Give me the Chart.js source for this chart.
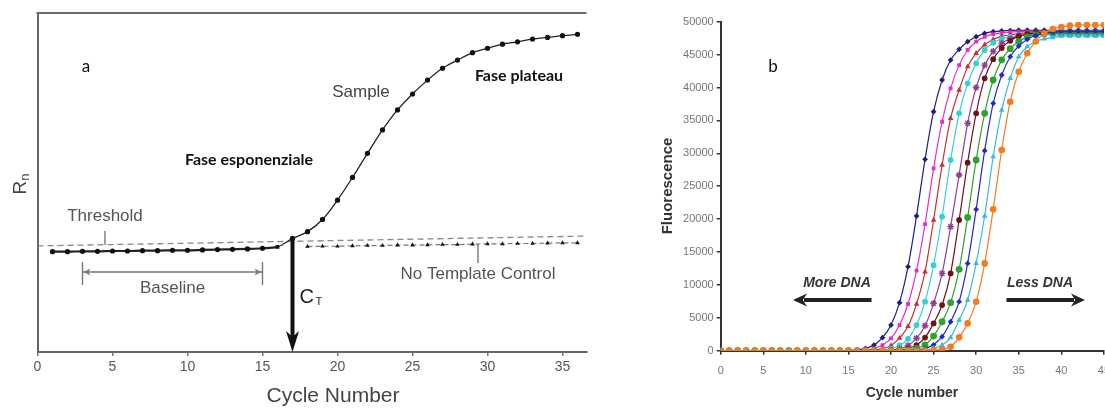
<!DOCTYPE html>
<html>
<head>
<meta charset="utf-8">
<script src="https://cdn.jsdelivr.net/npm/chart.js@4.4.1/dist/chart.umd.min.js"></script>
<style>
html, body { margin: 0; padding: 0; background: #fff; overflow: hidden; width: 1105px; height: 408px; }
#wrapA { position: absolute; left: 0; top: 0; width: 600px; height: 408px; }
#wrapB { position: absolute; left: 650px; top: 0; width: 470px; height: 408px; }
</style>
</head>
<body>
<div id="wrapA"><canvas id="chartA"></canvas></div>
<div id="wrapB"><canvas id="chartB"></canvas></div>
<script>
// ---- pannello a: curva tipica (unita arbitrarie su Rn) ----
const sampleCycles = [1, 2, 3, 4, 5, 6, 7, 8, 9, 10, 11, 12, 13, 14, 15, 16, 17, 18, 19, 20, 21, 22, 23, 24, 25, 26, 27, 28, 29, 30, 31, 32, 33, 34, 35, 36];
const sampleRn = [29.6, 29.6, 29.7, 29.7, 29.8, 29.8, 29.9, 29.9, 30.0, 30.0, 30.1, 30.2, 30.3, 30.4, 30.6, 31.0, 33.5, 35.5, 39.1, 44.8, 51.5, 58.6, 65.5, 71.4, 76.1, 80.2, 83.7, 86.1, 88.3, 89.6, 90.8, 91.5, 92.3, 92.8, 93.3, 93.7];
const ntcCycles = [18, 19, 20, 21, 22, 23, 24, 25, 26, 27, 28, 29, 30, 31, 32, 33, 34, 35, 36];
const ntcRn = [31.1, 31.2, 31.2, 31.3, 31.4, 31.4, 31.5, 31.5, 31.6, 31.7, 31.7, 31.8, 31.9, 31.9, 32.0, 32.0, 32.1, 32.2, 32.2];
const thresholdCycles = [0, 36.6];
const thresholdRn = [31.3, 34.2];
const ctCycle = 17;
const ctRn = 33.5;
const baselineFrom = 3;
const baselineTo = 15;
const xTicksA = [0, 5, 10, 15, 20, 25, 30, 35];

// ---- pannello b: serie di diluizioni ----
const cyclesB = [0, 1, 2, 3, 4, 5, 6, 7, 8, 9, 10, 11, 12, 13, 14, 15, 16, 17, 18, 19, 20, 21, 22, 23, 24, 25, 26, 27, 28, 29, 30, 31, 32, 33, 34, 35, 36, 37, 38, 39, 40, 41, 42, 43, 44, 45];
const navyF = [0, 0, 0, 0, 0, 0, 0, 0, 0, 0, 0, 0, 0, 0, 0, 50, 120, 350, 860, 1980, 3900, 7300, 12770, 20470, 29080, 36320, 41140, 44170, 45800, 46960, 47720, 48230, 48480, 48600, 48650, 48700, 48700, 48700, 48700, 48700, 48700, 48700, 48700, 48700, 48700, 48700];
const magentaF = [0, 0, 0, 0, 0, 0, 0, 0, 0, 0, 0, 0, 0, 0, 0, 0, 50, 120, 330, 850, 1870, 3900, 7100, 12160, 19250, 27700, 34800, 39870, 43400, 45700, 46960, 47700, 48100, 48300, 48400, 48500, 48500, 48500, 48500, 48500, 48500, 48500, 48500, 48500, 48500, 48500];
const redF = [0, 0, 0, 0, 0, 0, 0, 0, 0, 0, 0, 0, 0, 0, 0, 0, 0, 40, 110, 300, 800, 1900, 3700, 7100, 12000, 19860, 28200, 35300, 39600, 43160, 45200, 46500, 47300, 47800, 48000, 48200, 48300, 48300, 48300, 48300, 48300, 48300, 48300, 48300, 48300, 48300];
const cyanF = [0, 0, 0, 0, 0, 0, 0, 0, 0, 0, 0, 0, 0, 0, 0, 0, 0, 0, 0, 100, 300, 800, 1800, 3900, 7450, 13000, 20360, 28980, 36070, 40630, 43670, 45700, 46800, 47400, 47700, 47900, 48000, 48000, 48000, 48000, 48000, 48000, 48000, 48000, 48000, 48000];
const purpleF = [0, 0, 0, 0, 0, 0, 0, 0, 0, 0, 0, 0, 0, 0, 0, 0, 0, 0, 0, 0, 100, 300, 800, 1900, 3800, 7200, 11750, 18850, 26700, 34550, 40000, 43400, 45500, 46700, 47400, 47800, 48000, 48200, 48200, 48200, 48200, 48200, 48200, 48200, 48200, 48200];
const brownF = [0, 0, 0, 0, 0, 0, 0, 0, 0, 0, 0, 0, 0, 0, 0, 0, 0, 0, 0, 0, 40, 120, 330, 850, 2000, 4150, 6940, 11750, 19860, 28570, 36070, 41390, 44300, 46000, 47100, 47800, 48100, 48300, 48400, 48400, 48400, 48400, 48400, 48400, 48400, 48400];
const greenF = [0, 0, 0, 0, 0, 0, 0, 0, 0, 0, 0, 0, 0, 0, 0, 0, 0, 0, 0, 0, 0, 50, 130, 350, 900, 2230, 4400, 7300, 12360, 20260, 28980, 36070, 41140, 44200, 45900, 47000, 47700, 48000, 48200, 48300, 48300, 48300, 48300, 48300, 48300, 48300];
const blueF = [0, 0, 0, 0, 0, 0, 0, 0, 0, 0, 0, 0, 0, 0, 0, 0, 0, 0, 0, 0, 0, 0, 50, 130, 350, 900, 2130, 4400, 7450, 13270, 21480, 30400, 37590, 41900, 44680, 46300, 47300, 47900, 48200, 48400, 48500, 48500, 48500, 48500, 48500, 48500];
const tealF = [0, 0, 0, 0, 0, 0, 0, 0, 0, 0, 0, 0, 0, 0, 0, 0, 0, 0, 0, 0, 0, 0, 0, 40, 120, 330, 850, 2000, 4660, 7700, 13270, 20470, 29480, 36580, 41390, 44680, 46200, 47000, 47400, 47600, 47800, 47800, 47800, 47800, 47800, 47800];
const orangeF = [0, 0, 0, 0, 0, 0, 0, 0, 0, 0, 0, 0, 0, 0, 0, 0, 0, 0, 0, 0, 0, 0, 0, 0, 30, 80, 200, 600, 2030, 4150, 7450, 13270, 21480, 30500, 37840, 42400, 45200, 47000, 48200, 48900, 49200, 49400, 49500, 49500, 49500, 49500];
const xTicksB = [0, 5, 10, 15, 20, 25, 30, 35, 40, 45];
const yTicksB = [0, 5000, 10000, 15000, 20000, 25000, 30000, 35000, 40000, 45000, 50000];

const curves = [navyF, magentaF, redF, cyanF, purpleF, brownF, greenF, blueF, tealF, orangeF];
const curveColors = ['#1d1f7c', '#e02fcf', '#c0343c', '#35d0d6', '#8f3f92', '#6b1414', '#2fa12f', '#1b2bc8', '#3ab8e2', '#f27c1f'];
const curveMarkers = ['rectRot', 'rect', 'triangle', 'circle', 'star', 'circle', 'circle', 'rectRot', 'triangle', 'circle'];
const curveRadius = [2.9, 2.7, 3.3, 2.9, 3.3, 2.9, 3.4, 2.9, 3.3, 3.3];

const arial = '"Liberation Sans", Arial, sans-serif';
const calibri = 'Lato, "Open Sans", sans-serif';

function txt(ctx, s, x, y, font, color, align) {
    ctx.save();
    ctx.font = font;
    ctx.fillStyle = color;
    ctx.textAlign = align || 'center';
    ctx.textBaseline = 'middle';
    ctx.fillText(s, x, y);
    ctx.restore();
}

function line(ctx, x1, y1, x2, y2, color, w) {
    ctx.save();
    ctx.strokeStyle = color;
    ctx.lineWidth = w;
    ctx.beginPath();
    ctx.moveTo(x1, y1);
    ctx.lineTo(x2, y2);
    ctx.stroke();
    ctx.restore();
}

// punta di freccia orizzontale (dir = 1 verso destra, -1 verso sinistra)
function headH(ctx, x, y, dir, len, half, color) {
    ctx.save();
    ctx.fillStyle = color;
    ctx.beginPath();
    ctx.moveTo(x, y);
    ctx.lineTo(x - dir * len, y - half);
    ctx.lineTo(x - dir * len * 0.7, y);
    ctx.lineTo(x - dir * len, y + half);
    ctx.closePath();
    ctx.fill();
    ctx.restore();
}

const annotA = {
    id: 'annotA',
    afterDraw(chart) {
        const { ctx, chartArea: ca, scales: { x, y } } = chart;
        // bordo superiore
        line(ctx, ca.left - 1, ca.top, ca.right, ca.top, '#6a6a6a', 2);

        // freccia Ct
        const cx = x.getPixelForValue(ctCycle);
        const top = y.getPixelForValue(ctRn);
        const bot = y.getPixelForValue(0);
        line(ctx, cx, top, cx, bot - 14, '#111', 4);
        ctx.save();
        ctx.fillStyle = '#111';
        ctx.beginPath();
        ctx.moveTo(cx, bot);
        ctx.lineTo(cx - 6.5, bot - 21);
        ctx.lineTo(cx, bot - 15);
        ctx.lineTo(cx + 6.5, bot - 21);
        ctx.closePath();
        ctx.fill();
        ctx.restore();
        txt(ctx, 'C', cx + 7, 297, '20px ' + arial, '#222', 'left');
        txt(ctx, 'T', cx + 23, 302, '11px ' + arial, '#222', 'left');

        // baseline
        const bx1 = x.getPixelForValue(baselineFrom);
        const bx2 = x.getPixelForValue(baselineTo);
        const by = 272;
        line(ctx, bx1, by, bx2, by, '#777', 1.4);
        line(ctx, bx1, 262, bx1, 285, '#777', 1.4);
        line(ctx, bx2, 262, bx2, 285, '#777', 1.4);
        headH(ctx, bx2 - 1, by, 1, 7, 3.5, '#777');
        headH(ctx, bx1 + 1, by, -1, 7, 3.5, '#777');
        txt(ctx, 'Baseline', (bx1 + bx2) / 2, 288, '17px ' + arial, '#555');

        // threshold
        txt(ctx, 'Threshold', 105, 216, '17px ' + arial, '#555');
        line(ctx, 105, 231, 105, 245, '#777', 1.4);

        // no template control
        line(ctx, 478, 244, 478, 263, '#777', 1.4);
        txt(ctx, 'No Template Control', 478, 274, '17px ' + arial, '#555');

        txt(ctx, 'Sample', 361, 92, '17px ' + arial, '#444');
        txt(ctx, 'Fase plateau', 519, 76, 'bold 16px ' + calibri, '#111');
        txt(ctx, 'Fase esponenziale', 249, 160, 'bold 16px ' + calibri, '#111');
        txt(ctx, 'a', 86, 67, '17px ' + calibri, '#111');

        // titoli degli assi
        txt(ctx, 'Cycle Number', 333, 396, '21px ' + arial, '#444');
        ctx.save();
        ctx.translate(19, 184);
        ctx.rotate(-Math.PI / 2);
        ctx.fillStyle = '#444';
        ctx.textBaseline = 'alphabetic';
        ctx.textAlign = 'left';
        ctx.font = '19px ' + arial;
        const wR = ctx.measureText('R').width;
        ctx.font = '13px ' + arial;
        const wn = ctx.measureText('n').width;
        const start = -(wR + wn) / 2;
        ctx.font = '19px ' + arial;
        ctx.fillText('R', start, 7);
        ctx.font = '13px ' + arial;
        ctx.fillText('n', start + wR, 10);
        ctx.restore();
    }
};

new Chart(document.getElementById('chartA'), {
    type: 'line',
    data: {
        datasets: [
            {
                label: 'Sample',
                data: sampleCycles.map((c, i) => ({ x: c, y: sampleRn[i] })),
                borderColor: '#222',
                borderWidth: 1.3,
                segment: { borderWidth: c => (c.p1DataIndex <= 15 ? 2.2 : 1.3) },
                cubicInterpolationMode: 'monotone',
                pointStyle: c => (c.dataIndex === 15 ? 'rect' : 'circle'),
                pointRadius: 2.6,
                pointBackgroundColor: '#111',
                pointBorderColor: '#111',
                pointBorderWidth: 0
            },
            {
                label: 'No Template Control',
                data: ntcCycles.map((c, i) => ({ x: c, y: ntcRn[i] })),
                borderColor: '#777',
                borderWidth: 1.2,
                borderDash: [5, 3],
                pointStyle: 'triangle',
                pointRadius: 2.6,
                pointBackgroundColor: '#111',
                pointBorderColor: '#111',
                pointBorderWidth: 0
            },
            {
                label: 'Threshold',
                data: thresholdCycles.map((c, i) => ({ x: c, y: thresholdRn[i] })),
                borderColor: '#888',
                borderWidth: 1.3,
                borderDash: [6, 4],
                pointRadius: 0
            }
        ]
    },
    options: {
        responsive: true,
        maintainAspectRatio: false,
        animation: false,
        events: [],
        layout: { padding: { left: 0, top: 13, right: 13.5, bottom: 0 } },
        plugins: { legend: { display: false }, tooltip: { enabled: false } },
        scales: {
            x: {
                type: 'linear',
                min: 0,
                max: 36.6,
                afterBuildTicks: s => { s.ticks = xTicksA.map(v => ({ value: v })); },
                afterFit: s => { s.height = 56; },
                ticks: { color: '#555', font: { size: 14, family: arial }, padding: 3, maxRotation: 0, callback: v => String(v) },
                grid: { display: true, drawOnChartArea: false, drawTicks: true, tickLength: 4, color: '#777', lineWidth: 1.5 },
                border: { display: true, color: '#666', width: 2 }
            },
            y: {
                min: 0,
                max: 100,
                afterFit: s => { s.width = 37.5; },
                ticks: { display: false },
                grid: { display: true, drawOnChartArea: false, drawTicks: false },
                border: { display: true, color: '#666', width: 2 }
            }
        }
    },
    plugins: [annotA]
});

const annotB = {
    id: 'annotB',
    afterDraw(chart) {
        const { ctx } = chart;
        txt(ctx, 'b', 123, 67, '17px ' + calibri, '#111');
        txt(ctx, 'Cycle number', 262, 393, 'bold 14px ' + arial, '#333');
        ctx.save();
        ctx.translate(18, 186);
        ctx.rotate(-Math.PI / 2);
        txt(ctx, 'Fluorescence', 0, 0, 'bold 15px ' + arial, '#333');
        ctx.restore();

        txt(ctx, 'More DNA', 187, 283, 'italic bold 14px ' + arial, '#333');
        line(ctx, 221.5, 300, 154, 300, '#222', 4);
        headH(ctx, 143, 300, -1, 14, 6.5, '#222');
        txt(ctx, 'Less DNA', 390, 283, 'italic bold 14px ' + arial, '#333');
        line(ctx, 356.5, 300, 424, 300, '#222', 4);
        headH(ctx, 435, 300, 1, 14, 6.5, '#222');
    }
};

const datasetsB = curves.map((vals, i) => ({
    label: 'Serie ' + (i + 1),
    data: cyclesB.map((c, j) => ({ x: c, y: vals[j] })),
    borderColor: curveColors[i],
    backgroundColor: curveColors[i],
    borderWidth: 1.2,
    cubicInterpolationMode: 'monotone',
    pointStyle: curveMarkers[i],
    pointRadius: curveRadius[i],
    pointBackgroundColor: curveColors[i],
    pointBorderColor: curveColors[i],
    pointBorderWidth: curveMarkers[i] === 'star' ? 1.4 : 0
})).reverse();

new Chart(document.getElementById('chartB'), {
    type: 'line',
    data: { datasets: datasetsB },
    options: {
        responsive: true,
        maintainAspectRatio: false,
        animation: false,
        events: [],
        layout: { padding: { left: 0, top: 21.7, right: 16, bottom: 0 } },
        plugins: { legend: { display: false }, tooltip: { enabled: false } },
        scales: {
            x: {
                type: 'linear',
                min: 0,
                max: 45,
                afterBuildTicks: s => { s.ticks = xTicksB.map(v => ({ value: v })); },
                afterFit: s => { s.height = 57.3; },
                ticks: { color: '#777', font: { size: 11, family: arial }, padding: 10, maxRotation: 0, autoSkip: false, callback: v => String(v) },
                grid: { display: true, drawOnChartArea: false, drawTicks: true, tickLength: 4, color: '#333', lineWidth: 1.5 },
                border: { display: true, color: '#333', width: 2 }
            },
            y: {
                min: 0,
                max: 50000,
                afterBuildTicks: s => { s.ticks = yTicksB.map(v => ({ value: v })); },
                afterFit: s => { s.width = 70.7; },
                ticks: { color: '#777', font: { size: 11, family: arial }, padding: 3, autoSkip: false, callback: v => String(v) },
                grid: { display: true, drawOnChartArea: false, drawTicks: true, tickLength: 4, color: '#333', lineWidth: 1.5 },
                border: { display: true, color: '#333', width: 2 }
            }
        }
    },
    plugins: [annotB]
});
</script>
</body>
</html>
